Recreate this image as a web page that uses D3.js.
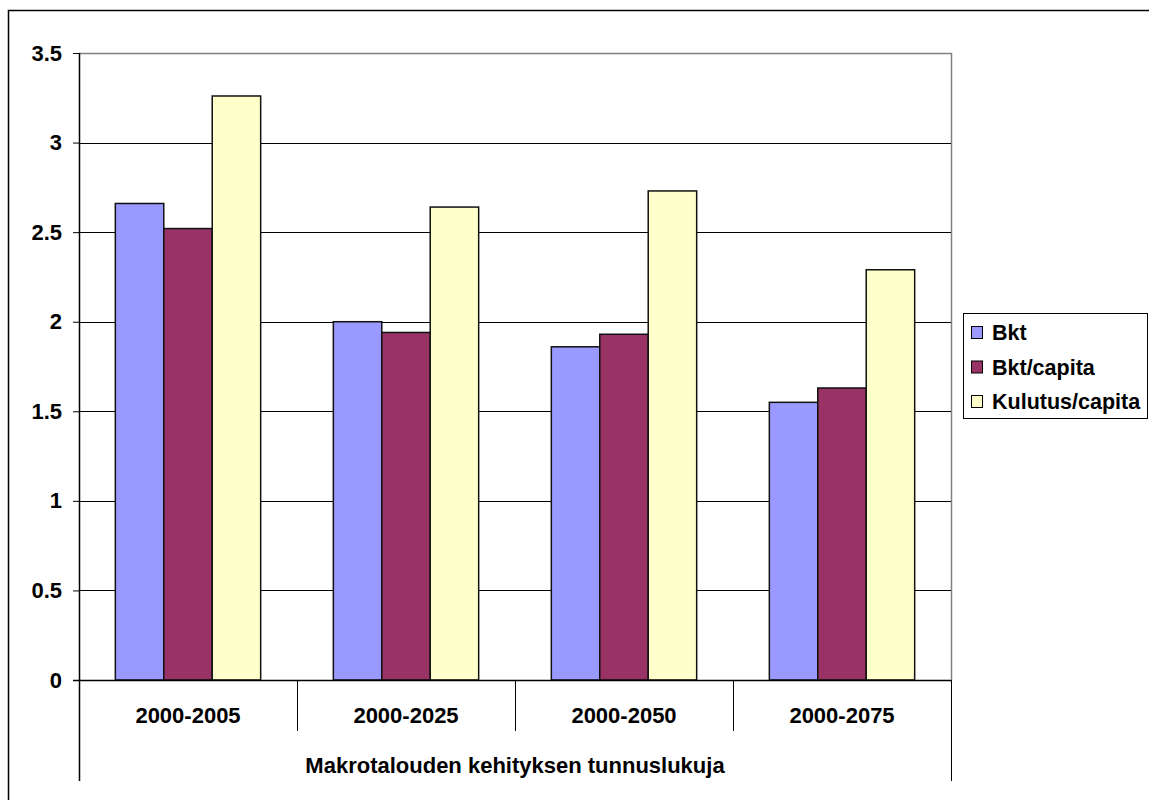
<!DOCTYPE html>
<html>
<head>
<meta charset="utf-8">
<script src="https://cdn.jsdelivr.net/npm/d3@7"></script>
<style>
  html, body { margin: 0; padding: 0; background: #fff; }
  svg { display: block; font-family: "Liberation Sans", Arial, sans-serif; }
</style>
</head>
<body>
<svg id="chart" width="1149" height="800"></svg>
<script>
// Growth indicators per period (annual %)
const categories = ["2000-2005", "2000-2025", "2000-2050", "2000-2075"];
const seriesNames = ["Bkt", "Bkt/capita", "Kulutus/capita"];
const bkt = [2.66, 2.00, 1.86, 1.55];
const bktCapita = [2.52, 1.94, 1.93, 1.63];
const kulutusCapita = [3.26, 2.64, 2.73, 2.29];
const yTicks = [0, 0.5, 1, 1.5, 2, 2.5, 3, 3.5];
const seriesColors = ["#9999ff", "#993366", "#ffffcc"];
const axisTitle = "Makrotalouden kehityksen tunnuslukuja";

const seriesValues = [bkt, bktCapita, kulutusCapita];
const FS = 22;

const svg = d3.select("#chart");

// Outer chart frame
svg.append("rect")
  .attr("x", 8.5).attr("y", 10.5)
  .attr("width", 1200).attr("height", 900)
  .attr("fill", "none").attr("stroke", "#000").attr("stroke-width", 1.5);

const plot = { left: 79, right: 951, top: 53, bottom: 680 };

const x0 = d3.scaleBand().domain(categories).range([plot.left, plot.right]).padding(0);
const bw = x0.bandwidth() / 4.5;
const x1 = d3.scaleBand().domain(seriesNames).range([0.75 * bw, 3.75 * bw]).padding(0);
const y = d3.scaleLinear().domain([0, 3.5]).range([plot.bottom, plot.top]);

// Plot area border (top and right)
svg.append("path")
  .attr("d", `M${plot.left},${plot.top + 0.5}H${plot.right + 0.5}V${plot.bottom}`)
  .attr("fill", "none").attr("stroke", "#808080").attr("stroke-width", 1.5);

// Gridlines
svg.append("g").selectAll("line")
  .data(yTicks.filter(t => t > 0 && t < 3.5))
  .join("line")
  .attr("x1", plot.left).attr("x2", plot.right)
  .attr("y1", d => Math.round(y(d)) + 0.5).attr("y2", d => Math.round(y(d)) + 0.5)
  .attr("stroke", "#000")
  .attr("stroke-width", 1);

// Bars
const groups = svg.append("g").selectAll("g")
  .data(categories)
  .join("g")
  .attr("transform", d => `translate(${x0(d)},0)`);

groups.selectAll("rect")
  .data((c, i) => seriesNames.map((s, j) => ({ s, v: seriesValues[j][i], j })))
  .join("rect")
  .attr("x", d => x1(d.s))
  .attr("y", d => y(d.v))
  .attr("width", x1.bandwidth())
  .attr("height", d => y(0) - y(d.v))
  .attr("fill", d => seriesColors[d.j])
  .attr("stroke", "#111")
  .attr("stroke-width", 1.5);

// Y axis
const yAxis = d3.axisLeft(y).tickValues(yTicks).tickSize(6).tickPadding(11)
  .tickFormat(d => String(d));
const yg = svg.append("g").attr("transform", `translate(${plot.left},0)`).call(yAxis);
yg.select(".domain").remove();
yg.selectAll(".tick line").attr("stroke", "#000");
yg.selectAll(".tick text")
  .attr("font-size", FS).attr("font-weight", "bold").attr("fill", "#000")
  .attr("font-family", "Liberation Sans, Arial, sans-serif");
svg.append("line")
  .attr("x1", plot.left + 0.5).attr("x2", plot.left + 0.5)
  .attr("y1", plot.top).attr("y2", 781)
  .attr("stroke", "#000").attr("stroke-width", 1.5);

// X axis baseline
svg.append("line")
  .attr("x1", plot.left - 6).attr("x2", plot.right)
  .attr("y1", plot.bottom + 0.5).attr("y2", plot.bottom + 0.5)
  .attr("stroke", "#000").attr("stroke-width", 1.5);

// Category separators
svg.append("g").selectAll("line")
  .data(categories.slice(1))
  .join("line")
  .attr("x1", d => x0(d) + 0.5).attr("x2", d => x0(d) + 0.5)
  .attr("y1", plot.bottom).attr("y2", 731)
  .attr("stroke", "#000").attr("stroke-width", 1);
svg.append("line")
  .attr("x1", plot.right + 0.5).attr("x2", plot.right + 0.5)
  .attr("y1", plot.bottom).attr("y2", 781)
  .attr("stroke", "#000").attr("stroke-width", 1);

// Category labels
svg.append("g").selectAll("text")
  .data(categories)
  .join("text")
  .attr("x", d => x0(d) + x0.bandwidth() / 2)
  .attr("y", 723)
  .attr("text-anchor", "middle")
  .attr("font-size", FS).attr("font-weight", "bold")
  .text(d => d);

// Axis title
svg.append("text")
  .attr("x", (plot.left + plot.right) / 2)
  .attr("y", 773)
  .attr("text-anchor", "middle")
  .attr("font-size", FS).attr("font-weight", "bold")
  .text(axisTitle);

// Legend
const legend = svg.append("g").attr("transform", "translate(963,313)");
legend.append("rect")
  .attr("x", 0.5).attr("y", 0.5).attr("width", 184).attr("height", 105)
  .attr("fill", "#fff").attr("stroke", "#000").attr("stroke-width", 1);
const items = legend.selectAll("g.item")
  .data(seriesNames)
  .join("g")
  .attr("class", "item")
  .attr("transform", (d, i) => `translate(8,${27 + i * 34.5})`);
items.append("rect")
  .attr("x", 0.5).attr("y", -13.5).attr("width", 11).attr("height", 12)
  .attr("fill", (d, i) => seriesColors[i])
  .attr("stroke", "#000").attr("stroke-width", 1);
items.append("text")
  .attr("x", 21).attr("y", 0)
  .attr("font-size", 21.5).attr("font-weight", "bold")
  .text(d => d);
</script>
</body>
</html>
